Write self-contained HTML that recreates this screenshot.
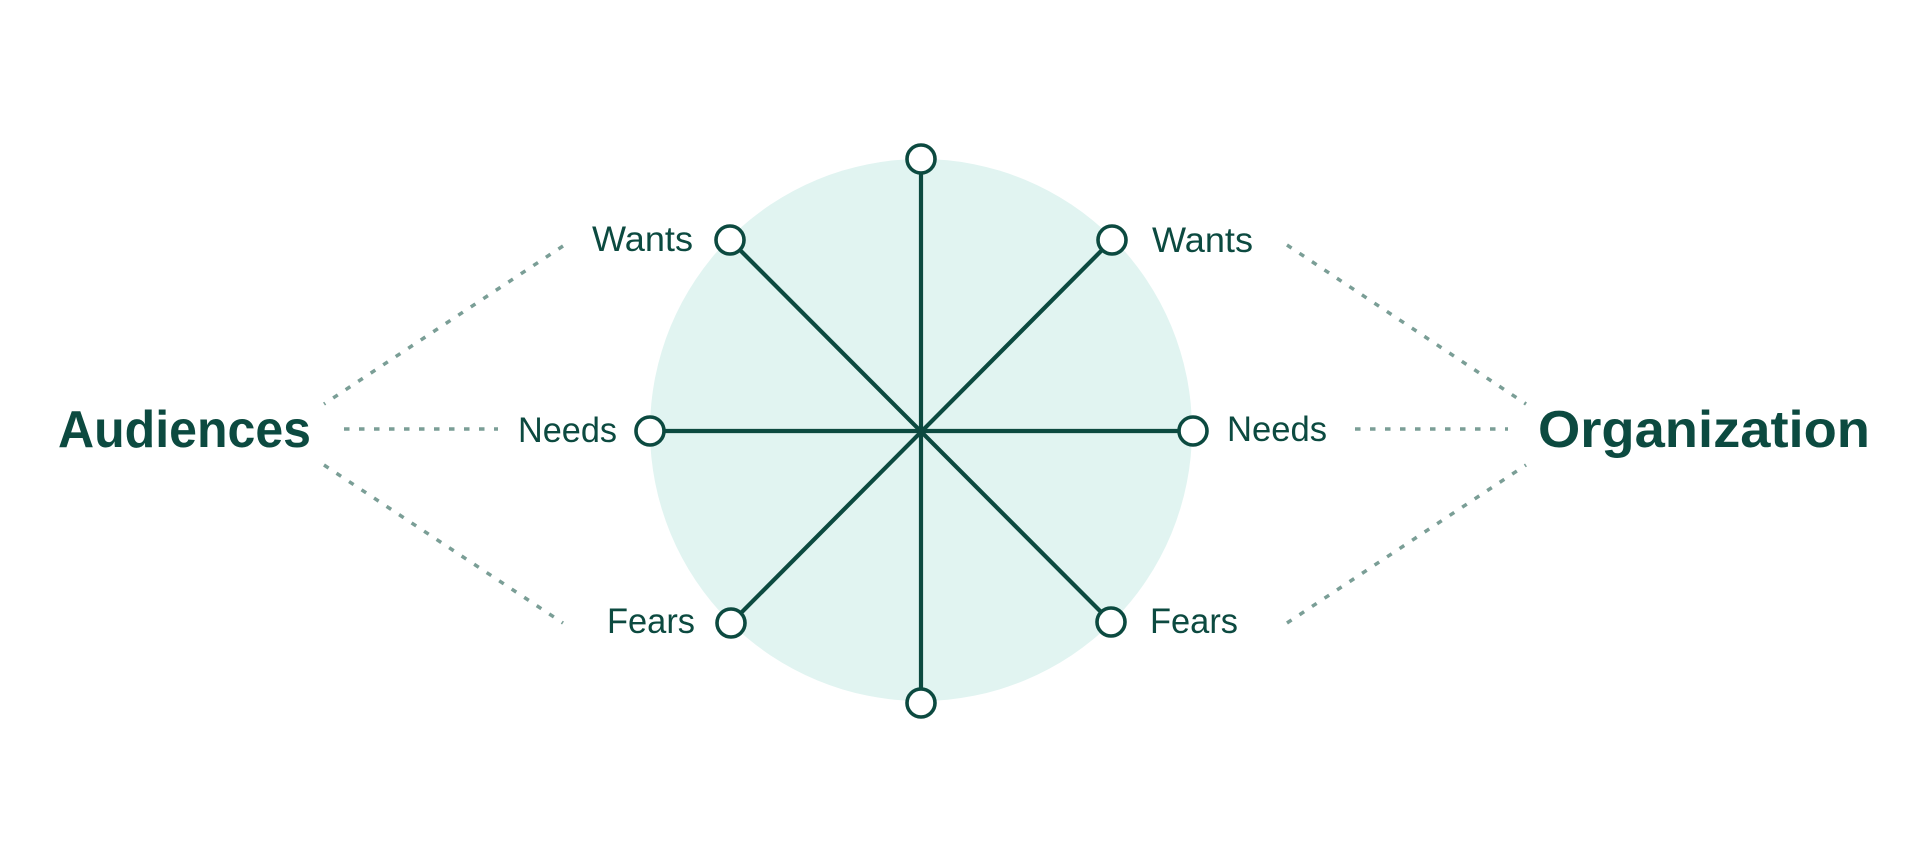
<!DOCTYPE html>
<html>
<head>
<meta charset="utf-8">
<style>
  html, body { margin: 0; padding: 0; background: #ffffff; }
  body { width: 1920px; height: 861px; overflow: hidden; }
  svg { display: block; }
  .lbl { font-family: "Liberation Sans", sans-serif; font-size: 35px; fill: #0c4a40; }
  .big { font-family: "Liberation Sans", sans-serif; font-size: 52px; font-weight: bold; fill: #0c4a40; }
  .dot { stroke: #7a9e96; stroke-width: 3.5; stroke-dasharray: 5.5 9.5; fill: none; }
  .spoke { stroke: #0c4a40; stroke-width: 4.2; }
  .node { fill: #ffffff; stroke: #0c4a40; stroke-width: 3.6; }
</style>
</head>
<body>
<svg width="1920" height="861" viewBox="0 0 1920 861" xmlns="http://www.w3.org/2000/svg">
  <!-- background circle -->
  <circle cx="921" cy="430" r="271" fill="#e1f4f1"/>

  <!-- spokes -->
  <line class="spoke" x1="921" y1="159" x2="921" y2="703"/>
  <line class="spoke" x1="650" y1="431" x2="1193" y2="431"/>
  <line class="spoke" x1="730" y1="240" x2="1111" y2="622"/>
  <line class="spoke" x1="1112" y1="240" x2="731" y2="623"/>

  <!-- nodes -->
  <circle class="node" cx="921" cy="159" r="14"/>
  <circle class="node" cx="921" cy="703" r="14"/>
  <circle class="node" cx="650" cy="431" r="14"/>
  <circle class="node" cx="1193" cy="431" r="14"/>
  <circle class="node" cx="730" cy="240" r="14"/>
  <circle class="node" cx="1112" cy="240" r="14"/>
  <circle class="node" cx="731" cy="623" r="14"/>
  <circle class="node" cx="1111" cy="622" r="14"/>

  <!-- dotted connectors left -->
  <line class="dot" x1="563" y1="246" x2="324" y2="404"/>
  <line class="dot" x1="344" y1="429" x2="498" y2="429"/>
  <line class="dot" x1="324" y1="465" x2="563" y2="623"/>

  <!-- dotted connectors right -->
  <line class="dot" x1="1287" y1="245" x2="1526" y2="404"/>
  <line class="dot" x1="1355" y1="429" x2="1508" y2="429"/>
  <line class="dot" x1="1287" y1="623" x2="1526" y2="465"/>

  <!-- labels -->
  <text class="big" x="58" y="447" textLength="253" lengthAdjust="spacingAndGlyphs">Audiences</text>
  <text class="big" x="1538" y="447" textLength="332" lengthAdjust="spacingAndGlyphs">Organization</text>

  <text class="lbl" x="592" y="251" textLength="101" lengthAdjust="spacingAndGlyphs">Wants</text>
  <text class="lbl" x="1152" y="252" textLength="101" lengthAdjust="spacingAndGlyphs">Wants</text>
  <text class="lbl" x="518" y="442" textLength="99" lengthAdjust="spacingAndGlyphs">Needs</text>
  <text class="lbl" x="1227" y="441" textLength="100" lengthAdjust="spacingAndGlyphs">Needs</text>
  <text class="lbl" x="607" y="633" textLength="88" lengthAdjust="spacingAndGlyphs">Fears</text>
  <text class="lbl" x="1150" y="633" textLength="88" lengthAdjust="spacingAndGlyphs">Fears</text>
</svg>
</body>
</html>
